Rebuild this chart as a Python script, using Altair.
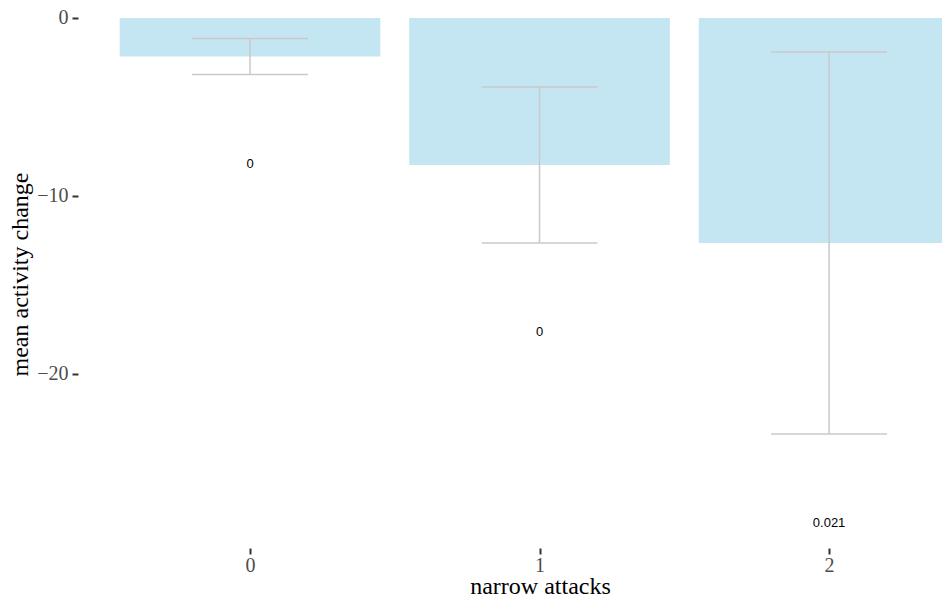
import altair as alt
import pandas as pd

# data
categories = [0, 1, 2]
mean_change = [-2.17, -8.26, -12.64]
ci_upper = [-1.16, -3.88, -1.91]
ci_lower = [-3.18, -12.64, -23.37]
p_labels = ["0", "0", "0.021"]

df = pd.DataFrame({
    "attacks": categories,
    "mean": mean_change,
    "hi": ci_upper,
    "lo": ci_lower,
    "p": p_labels,
})

BAR_HALF = 0.45
CAP_HALF = 0.2
LABEL_OFFSET = 5

xscale = alt.Scale(domain=[-0.594, 2.39], nice=False, zero=False)
yscale = alt.Scale(domain=[-29.78, 0.56], nice=False, zero=False)

base = alt.Chart(df).transform_calculate(
    xl=f"datum.attacks - {BAR_HALF}",
    xr=f"datum.attacks + {BAR_HALF}",
    cl=f"datum.attacks - {CAP_HALF}",
    cr=f"datum.attacks + {CAP_HALF}",
    zero="0",
    ly=f"datum.lo - {LABEL_OFFSET}",
)

xaxis = alt.Axis(
    values=[0, 1, 2], format="d", title="narrow attacks",
    grid=False, domain=False, tickColor="#333333", tickWidth=2, tickSize=6,
    labelFont="Liberation Serif", labelFontSize=20, labelColor="#4d4d4d",
    labelPadding=1, titleFont="Liberation Serif", titleFontSize=24,
    titleFontWeight="normal", titleColor="#000000", titleX=462, titleY=45,
    titleBaseline="alphabetic",
)
yaxis = alt.Axis(
    values=[0, -10, -20], title="mean activity change",
    grid=False, domain=False, tickColor="#333333", tickWidth=2, tickSize=6,
    labelFont="Liberation Serif", labelFontSize=20, labelColor="#4d4d4d",
    labelPadding=4, titleFont="Liberation Serif", titleFontSize=24,
    titleFontWeight="normal", titleColor="#000000", titleX=-58, titleY=266,
    titleBaseline="middle",
)

bars = base.mark_rect(color="#c4e6f3", clip=True).encode(
    x=alt.X("xl:Q", scale=xscale, axis=xaxis),
    x2="xr:Q",
    y=alt.Y("zero:Q", scale=yscale, axis=yaxis),
    y2="mean:Q",
)

stem = base.mark_rule(color="#ccc8c6", strokeWidth=1.5).encode(
    x="attacks:Q", y="hi:Q", y2="lo:Q"
)
cap_hi = base.mark_rule(color="#ccc8c6", strokeWidth=1.5).encode(
    x="cl:Q", x2="cr:Q", y="hi:Q"
)
cap_lo = base.mark_rule(color="#ccc8c6", strokeWidth=1.5).encode(
    x="cl:Q", x2="cr:Q", y="lo:Q"
)
labels = base.mark_text(font="Liberation Sans", fontSize=13, color="#000000",
                        baseline="middle", align="center").encode(
    x="attacks:Q", y="ly:Q", text="p:N"
)

chart = alt.layer(bars, stem, cap_hi, cap_lo, labels).properties(
    width=864, height=540,
    autosize=alt.AutoSizeParams(type="none"),
    padding={"left": 70, "top": 0, "right": 0, "bottom": 47},
).configure_view(stroke=None)

chart.save("out.html", embed_options={"renderer": "svg", "actions": False})
